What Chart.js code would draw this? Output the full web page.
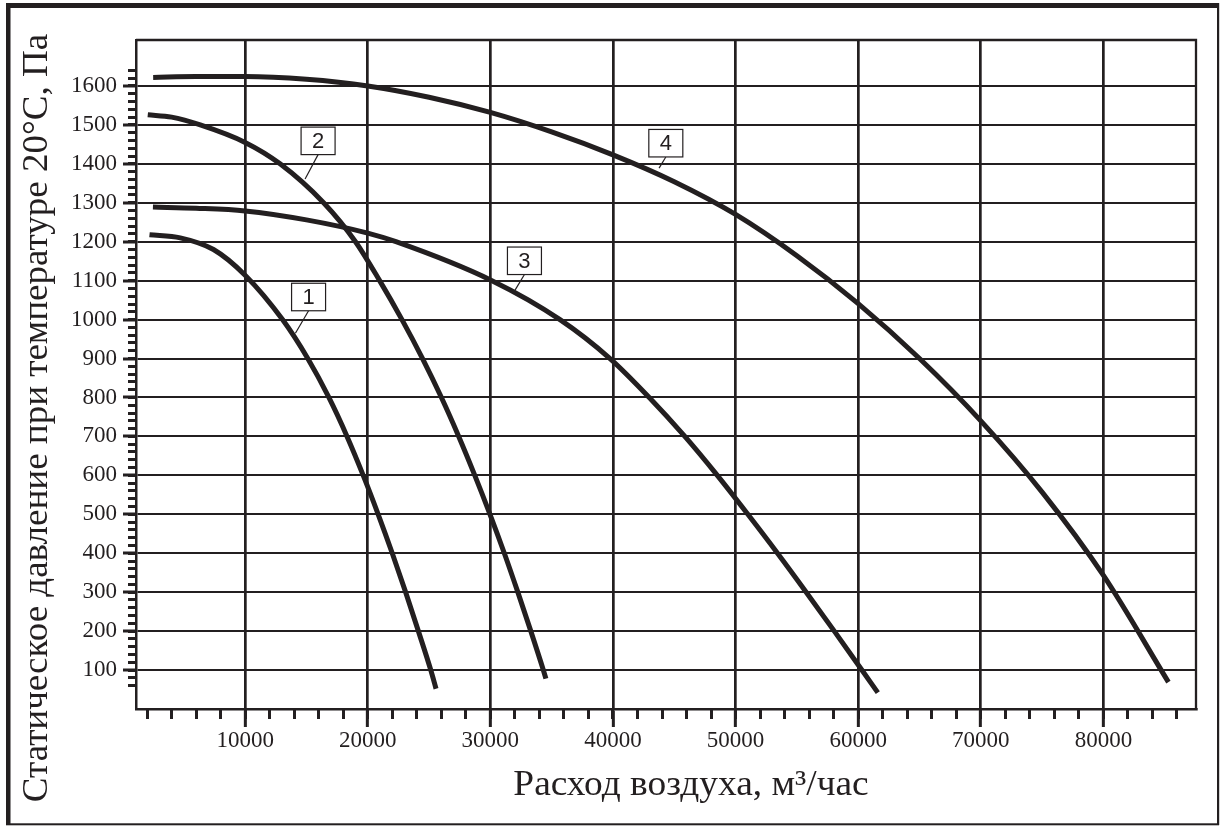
<!DOCTYPE html>
<html lang="ru">
<head>
<meta charset="utf-8">
<title>Статическое давление — расход воздуха</title>
<script src="https://cdn.jsdelivr.net/npm/chart.js@4.4.1/dist/chart.umd.min.js"></script>
<style>
  html, body { margin: 0; padding: 0; background: #ffffff; }
  #wrap { position: relative; width: 1221px; height: 826px; }
  canvas { display: block; }
</style>
</head>
<body>
<div id="wrap"><canvas id="fanChart" width="1221" height="826"></canvas></div>
<script>
// Fan curves: air flow (m3/h) against static pressure (Pa)
const flow1 = [2200, 4710, 7420, 10000, 13050, 15110, 16830, 18310, 19630, 20850, 22000, 23090, 24130, 25140, 25570];
const pressure1 = [1218, 1210, 1180, 1114, 1000, 900, 800, 700, 600, 500, 400, 300, 200, 100, 52];

const flow2 = [2060, 4000, 6340, 10000, 12850, 16400, 19000, 20970, 22790, 24470, 26010, 27420, 28730, 29970, 31140, 32240, 33300, 34320, 34530];
const pressure2 = [1526, 1520, 1500, 1455, 1400, 1300, 1200, 1100, 1000, 900, 800, 700, 600, 500, 400, 300, 200, 100, 78];

const flow3 = [2480, 6000, 10000, 15000, 20000, 22300, 30130, 35680, 39760, 42960, 45860, 48510, 51000, 53420, 55760, 58050, 60300, 61600];
const pressure3 = [1289, 1286, 1279, 1256, 1222, 1200, 1100, 1000, 900, 800, 700, 600, 500, 400, 300, 200, 100, 42];

const flow4 = [2500, 6000, 10000, 15000, 20000, 25000, 30000, 35000, 40000, 45000, 50000, 55000, 60000, 65000, 70000, 75000, 80000, 85300];
const pressure4 = [1622, 1624, 1624, 1617, 1600, 1571, 1532, 1482, 1423, 1354, 1270, 1164, 1041, 900, 740, 557, 343, 69];

const curveNames = ['1', '2', '3', '4'];

// Axis ticks
const flowTicks = [10000, 20000, 30000, 40000, 50000, 60000, 70000, 80000];
const flowMinorTicks = [];
for (let v = 2000; v <= 86000; v += 2000) flowMinorTicks.push(v);
const pressureTicks = [100, 200, 300, 400, 500, 600, 700, 800, 900, 1000, 1100, 1200, 1300, 1400, 1500, 1600];
const pressureMinorTicks = [];
for (let v = 60; v <= 1640; v += 20) pressureMinorTicks.push(v);

const xTitle = 'Расход воздуха, м³/час';
const yTitle = 'Статическое давление при температуре 20°С, Па';

// Numbered callouts, anchored in data units (box centre and leader tip on the curve)
const callouts = [
  { text: '1', boxFlow: 15175, boxPressure: 1058, tipFlow: 14100, tipPressure: 965 },
  { text: '2', boxFlow: 15950, boxPressure: 1459, tipFlow: 14890, tipPressure: 1361 },
  { text: '3', boxFlow: 32780, boxPressure: 1151, tipFlow: 32000, tipPressure: 1075 },
  { text: '4', boxFlow: 44310, boxPressure: 1453, tipFlow: 43760, tipPressure: 1389 }
];

const INK = '#231f20';
const SERIF = '"Liberation Serif", "Times New Roman", serif';
const SANS = '"Liberation Sans", Arial, sans-serif';

const toPoints = (xs, ys) => xs.map((x, i) => ({ x: x, y: ys[i] }));
const seriesFlows = [flow1, flow2, flow3, flow4];
const seriesPressures = [pressure1, pressure2, pressure3, pressure4];

const datasets = curveNames.map((name, i) => ({
  label: name,
  data: toPoints(seriesFlows[i], seriesPressures[i]),
  borderColor: INK,
  borderWidth: 5,
  borderCapStyle: 'butt',
  borderJoinStyle: 'round',
  pointRadius: 0,
  pointHoverRadius: 0,
  fill: false,
  cubicInterpolationMode: 'monotone',
  xAxisID: 'x',
  yAxisID: 'y'
}));

const setTicks = (values) => (scale) => { scale.ticks = values.map(v => ({ value: v })); };

// Text drawn slightly widened, like the typeface of the axis titles
function wideText(ctx, text, x, y, stretch) {
  ctx.save();
  ctx.translate(x, y);
  ctx.scale(stretch, 1);
  ctx.fillText(text, 0, 0);
  ctx.restore();
}

const decorPlugin = {
  id: 'decor',
  afterDatasetsDraw(chart) {
    const ctx = chart.ctx;
    const area = chart.chartArea;
    const xs = chart.scales.x, ys = chart.scales.y;
    ctx.save();
    // top and right edges of the plot frame
    ctx.strokeStyle = INK;
    ctx.lineWidth = 2.3;
    ctx.beginPath();
    ctx.moveTo(area.left, area.top);
    ctx.lineTo(area.right, area.top);
    ctx.lineTo(area.right, area.bottom);
    ctx.stroke();

    // numbered callouts
    const bw = 34, bh = 27.5;
    callouts.forEach(c => {
      const bx = xs.getPixelForValue(c.boxFlow);
      const by = ys.getPixelForValue(c.boxPressure);
      const tx = xs.getPixelForValue(c.tipFlow);
      const ty = ys.getPixelForValue(c.tipPressure);
      ctx.strokeStyle = INK;
      ctx.lineWidth = 1.2;
      ctx.beginPath();
      ctx.moveTo(bx, by + bh / 2);
      ctx.lineTo(tx, ty);
      ctx.stroke();
      ctx.fillStyle = '#ffffff';
      ctx.fillRect(bx - bw / 2, by - bh / 2, bw, bh);
      ctx.strokeRect(bx - bw / 2, by - bh / 2, bw, bh);
      ctx.fillStyle = INK;
      ctx.font = '22px ' + SANS;
      ctx.textAlign = 'center';
      ctx.textBaseline = 'middle';
      ctx.fillText(c.text, bx, by + 1);
    });
    ctx.restore();
  },
  afterDraw(chart) {
    const ctx = chart.ctx;
    ctx.save();
    // outer frame
    ctx.fillStyle = INK;
    ctx.fillRect(6, 3, 1213, 5);
    ctx.fillRect(6, 3, 4.5, 822);
    ctx.fillRect(1217, 3, 2.2, 822);
    ctx.fillRect(6, 823.3, 1213, 2);
    // axis titles
    ctx.fillStyle = INK;
    ctx.font = '35px ' + SERIF;
    ctx.textAlign = 'center';
    ctx.textBaseline = 'alphabetic';
    wideText(ctx, xTitle, 691, 795, 1.068);
    ctx.translate(47, 418);
    ctx.rotate(-Math.PI / 2);
    wideText(ctx, yTitle, 0, 0, 1.058);
    ctx.restore();
  }
};

new Chart(document.getElementById('fanChart'), {
  type: 'line',
  data: { datasets: datasets },
  options: {
    responsive: false,
    devicePixelRatio: 1,
    animation: false,
    events: [],
    layout: { padding: { top: 40, right: 25, left: 0, bottom: 0 } },
    plugins: { legend: { display: false }, tooltip: { enabled: false } },
    scales: {
      x: {
        type: 'linear',
        position: 'bottom',
        weight: 1,
        min: 1100,
        max: 87550,
        afterBuildTicks: setTicks(flowTicks),
        afterFit: (s) => { s.height = 117; },
        ticks: {
          autoSkip: false,
          maxRotation: 0,
          padding: 0,
          color: INK,
          font: { family: SERIF, size: 23 },
          callback: (v) => String(v)
        },
        grid: { color: INK, lineWidth: 2.7, tickLength: 18, tickWidth: 3, tickColor: INK },
        border: { display: true, color: INK, width: 2.5 }
      },
      xMinor: {
        type: 'linear',
        position: 'bottom',
        weight: 0,
        min: 1100,
        max: 87550,
        afterBuildTicks: setTicks(flowMinorTicks),
        afterFit: (s) => { s.height = 0; },
        ticks: { display: false },
        grid: { drawOnChartArea: false, tickLength: 10, tickWidth: 3, tickColor: INK },
        border: { display: false }
      },
      y: {
        type: 'linear',
        position: 'left',
        weight: 1,
        min: 0,
        max: 1718,
        afterBuildTicks: setTicks(pressureTicks),
        afterFit: (s) => { s.width = 136; },
        ticks: {
          autoSkip: false,
          padding: 6,
          color: INK,
          font: { family: SERIF, size: 23 },
          callback: (v) => String(v)
        },
        grid: { color: INK, lineWidth: 2, tickLength: 13, tickWidth: 3, tickColor: INK },
        border: { display: true, color: INK, width: 2.5 }
      },
      yMinor: {
        type: 'linear',
        position: 'left',
        weight: 0,
        min: 0,
        max: 1718,
        afterBuildTicks: setTicks(pressureMinorTicks),
        afterFit: (s) => { s.width = 0; },
        ticks: { display: false },
        grid: { drawOnChartArea: false, tickLength: 8, tickWidth: 3, tickColor: INK },
        border: { display: false }
      }
    }
  },
  plugins: [decorPlugin]
});
</script>
</body>
</html>
